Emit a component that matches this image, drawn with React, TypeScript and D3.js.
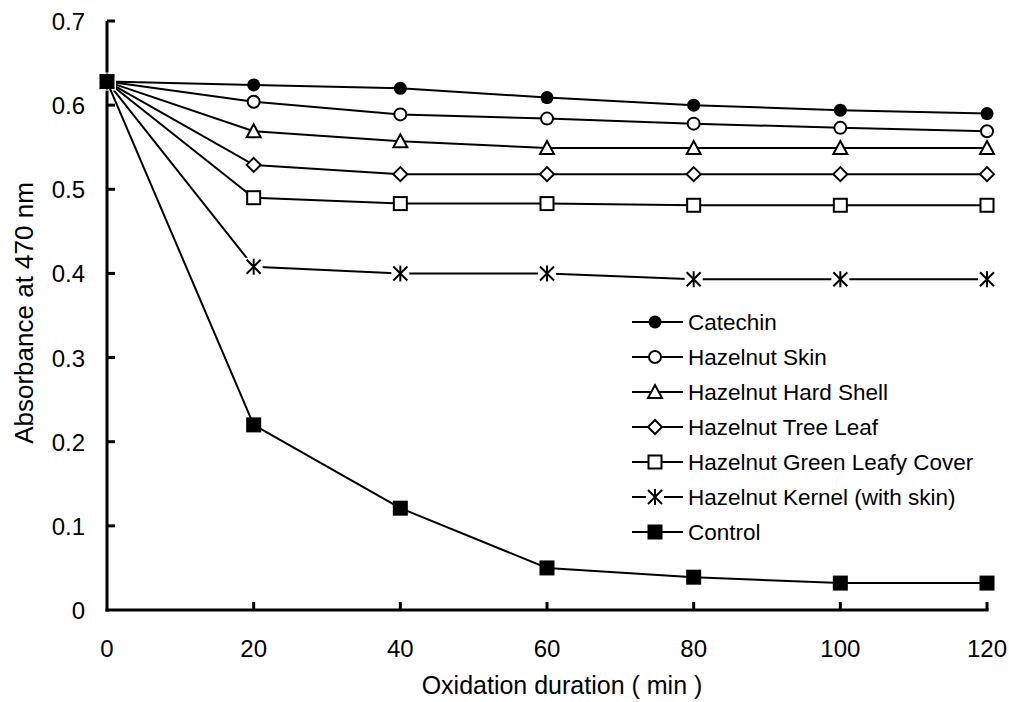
import React from 'react'
import * as d3 from 'd3'

const minutes = [0, 20, 40, 60, 80, 100, 120]
const seriesNames = [
  'Catechin',
  'Hazelnut Skin',
  'Hazelnut Hard Shell',
  'Hazelnut Tree Leaf',
  'Hazelnut Green Leafy Cover',
  'Hazelnut Kernel (with skin)',
  'Control',
]
const catechin = [0.628, 0.624, 0.62, 0.609, 0.6, 0.594, 0.59]
const hazelnutSkin = [0.628, 0.604, 0.589, 0.584, 0.578, 0.573, 0.569]
const hardShell = [0.628, 0.569, 0.557, 0.549, 0.549, 0.549, 0.549]
const treeLeaf = [0.628, 0.529, 0.518, 0.518, 0.518, 0.518, 0.518]
const greenLeafyCover = [0.628, 0.49, 0.483, 0.483, 0.481, 0.481, 0.481]
const kernel = [0.628, 0.408, 0.4, 0.4, 0.393, 0.393, 0.393]
const control = [0.628, 0.22, 0.121, 0.05, 0.039, 0.032, 0.032]
const markerKinds = ['dot', 'circle', 'triangle', 'diamond', 'square', 'star', 'filledSquare']

const xTicks = [0, 20, 40, 60, 80, 100, 120]
const yTicks = [0, 0.1, 0.2, 0.3, 0.4, 0.5, 0.6, 0.7]

const allValues = [catechin, hazelnutSkin, hardShell, treeLeaf, greenLeafyCover, kernel, control]
const series = seriesNames.map((name, i) => ({ name, kind: markerKinds[i], values: allValues[i] }))

const width = 1009
const height = 702
const font = 'Liberation Sans, Arial, sans-serif'

const xScale = d3.scaleLinear().domain([0, 120]).range([107, 987])
const yScale = d3.scaleLinear().domain([0, 0.7]).range([610, 21])

const lineGen = d3
  .line<number>()
  .x((d, i) => xScale(minutes[i]))
  .y(d => yScale(d))

function Marker({ kind, x, y }: { kind: string; x: number; y: number }) {
  const s = 7
  const sw = 2
  if (kind === 'dot') return <circle cx={x} cy={y} r={6.5} fill="black" />
  if (kind === 'circle') return <circle cx={x} cy={y} r={6} fill="white" stroke="black" strokeWidth={sw} />
  if (kind === 'square')
    return <rect x={x - 6.5} y={y - 6.5} width={13} height={13} fill="white" stroke="black" strokeWidth={sw} />
  if (kind === 'filledSquare') return <rect x={x - 7.5} y={y - 7.5} width={15} height={15} fill="black" />
  if (kind === 'triangle')
    return (
      <path
        d={`M${x},${y - s}L${x + s},${y + 6}L${x - s},${y + 6}Z`}
        fill="white"
        stroke="black"
        strokeWidth={sw}
        strokeLinejoin="miter"
      />
    )
  if (kind === 'diamond')
    return (
      <path
        d={`M${x},${y - s}L${x + s},${y}L${x},${y + s}L${x - s},${y}Z`}
        fill="white"
        stroke="black"
        strokeWidth={sw}
      />
    )
  // star: vertical bar plus an X, with a white clearing behind it
  return (
    <g>
      <rect x={x - 9} y={y - 9} width={18} height={18} fill="white" />
      <path
        d={`M${x},${y - 8}L${x},${y + 8}M${x - 7},${y - 7}L${x + 7},${y + 7}M${x + 7},${y - 7}L${x - 7},${y + 7}`}
        stroke="black"
        strokeWidth={2}
        fill="none"
      />
    </g>
  )
}

function Axes() {
  return (
    <g>
      <line x1={107} x2={107} y1={yScale(0.7)} y2={yScale(0) + 1.5} stroke="black" strokeWidth={3} />
      <line x1={105.5} x2={xScale(120) + 1.5} y1={610} y2={610} stroke="black" strokeWidth={3} />
      {yTicks.map(t => (
        <g key={t}>
          {t > 0 ? (
            <line x1={107} x2={115} y1={yScale(t)} y2={yScale(t)} stroke="black" strokeWidth={3} />
          ) : null}
          <text x={85} y={yScale(t) + 9} textAnchor="end" fontSize={24} fontFamily={font}>
            {t === 0 ? '0' : t.toFixed(1)}
          </text>
        </g>
      ))}
      {xTicks.map(t => (
        <g key={t}>
          {t > 0 ? (
            <line x1={xScale(t)} x2={xScale(t)} y1={610} y2={602} stroke="black" strokeWidth={3} />
          ) : null}
          <text x={xScale(t)} y={657} textAnchor="middle" fontSize={24} fontFamily={font}>
            {t}
          </text>
        </g>
      ))}
      <text x={562} y={694} textAnchor="middle" fontSize={25} fontFamily={font}>
        Oxidation duration ( min )
      </text>
      <text
        transform="translate(33, 313) rotate(-90)"
        textAnchor="middle"
        fontSize={26}
        fontFamily={font}
      >
        Absorbance at 470 nm
      </text>
    </g>
  )
}

function Legend() {
  return (
    <g>
      {series.map((s, i) => {
        const y = 322 + i * 35
        return (
          <g key={s.name}>
            <line x1={632} x2={683} y1={y} y2={y} stroke="black" strokeWidth={2} />
            <Marker kind={s.kind} x={655} y={y} />
            <text x={688} y={y + 8} fontSize={22.5} fontFamily={font}>
              {s.name}
            </text>
          </g>
        )
      })}
    </g>
  )
}

export default function App() {
  return (
    <svg width={width} height={height} style={{ position: 'absolute', left: 0, top: 0, background: 'white' }}>
      <rect width={width} height={height} fill="white" />
      <Axes />
      {series.map(s => (
        <g key={s.name}>
          <path d={lineGen(s.values) || ''} fill="none" stroke="black" strokeWidth={2} />
          {s.values.map((v, i) => (
            <Marker key={i} kind={s.kind} x={xScale(minutes[i])} y={yScale(v)} />
          ))}
        </g>
      ))}
      <Legend />
    </svg>
  )
}
